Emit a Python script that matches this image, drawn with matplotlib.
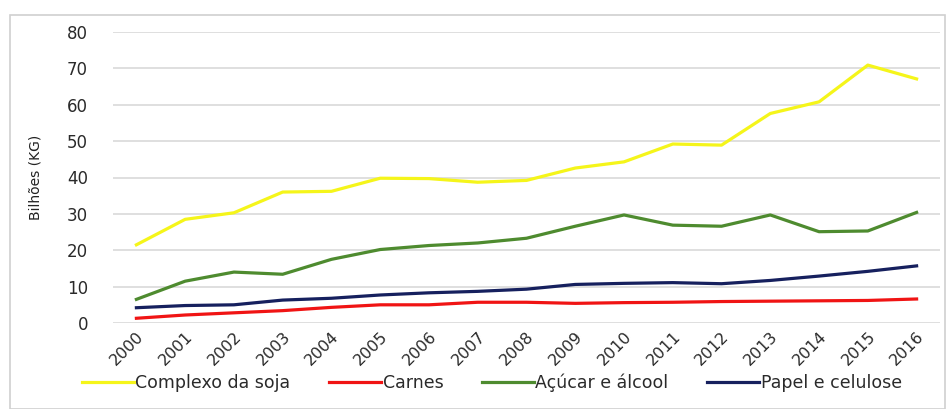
import matplotlib.pyplot as plt
from matplotlib.patches import Rectangle

years = list(range(2000, 2017))
soja = [21.5, 28.5, 30.3, 36.0, 36.2, 39.8, 39.7, 38.7, 39.2, 42.6, 44.3, 49.2, 48.9, 57.6, 60.8, 70.9, 67.1]
carnes = [1.3, 2.2, 2.8, 3.4, 4.3, 5.0, 5.0, 5.7, 5.7, 5.4, 5.6, 5.7, 5.9, 6.0, 6.1, 6.2, 6.6]
acucar = [6.5, 11.5, 14.0, 13.4, 17.5, 20.2, 21.3, 22.0, 23.3, 26.6, 29.7, 26.9, 26.6, 29.7, 25.1, 25.3, 30.4]
papel = [4.2, 4.8, 5.0, 6.3, 6.8, 7.7, 8.3, 8.7, 9.3, 10.6, 10.9, 11.1, 10.8, 11.7, 12.9, 14.2, 15.7]
y_ticks = [0, 10, 20, 30, 40, 50, 60, 70, 80]

series = [
    ("Complexo da soja", soja, "#F5F51A"),
    ("Carnes", carnes, "#F01414"),
    ("Açúcar e álcool", acucar, "#4E8B2F"),
    ("Papel e celulose", papel, "#16205E"),
]

fig = plt.figure(figsize=(9.51, 4.09), dpi=100)
ax = fig.add_axes([113 / 951, 1 - 323 / 409, 827 / 951, 291 / 409])

for name, vals, col in series:
    ax.plot(years, vals, color=col, lw=2.3, label=name)

ax.set_ylim(0, 80)
ax.set_xlim(1999.52, 2016.48)
ax.set_yticks(y_ticks)
ax.set_xticks(years)
ax.set_xticklabels([str(y) for y in years], rotation=45, ha="right",
                   rotation_mode="anchor", fontsize=11.5, color="#2a2a2a")
ax.tick_params(axis="y", labelsize=12, colors="#2a2a2a", length=0, pad=18)
ax.tick_params(axis="x", length=0, pad=4)
ax.grid(axis="y", color="#D9D9D9", lw=1.2)
ax.set_axisbelow(True)
for s in ax.spines.values():
    s.set_visible(False)
ax.set_ylabel("Bilhões (KG)", fontsize=10, color="#222222")
ax.yaxis.set_label_coords(-0.085, 0.5)

fig.legend(loc="center", bbox_to_anchor=(0.517, 1 - 383 / 409), ncol=4,
           frameon=False, fontsize=12.5, handlelength=3.0, handletextpad=0.1,
           columnspacing=2.2, labelcolor="#2a2a2a")

fig.patches.append(Rectangle((10 / 951, 0), 935 / 951, 1 - 15 / 409,
                             transform=fig.transFigure, fill=False,
                             edgecolor="#D0D0D0", lw=1.2))

fig.savefig("out.png", dpi=100)
